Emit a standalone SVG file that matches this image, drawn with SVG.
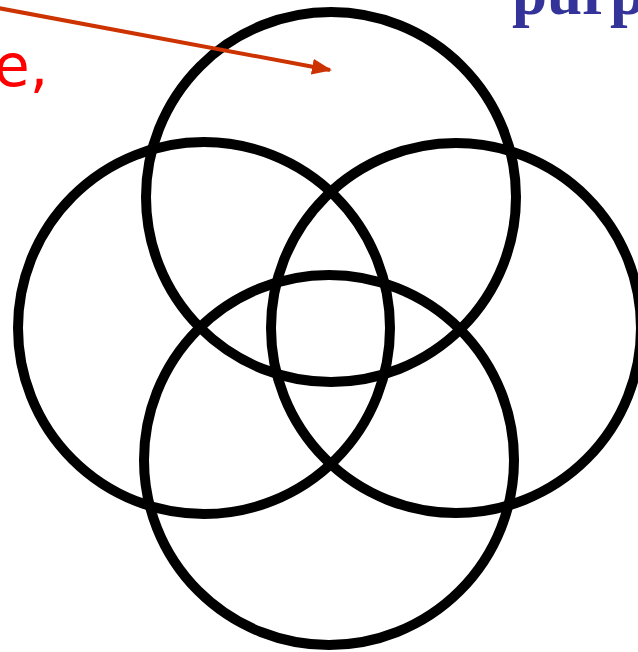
<svg xmlns="http://www.w3.org/2000/svg" width="638" height="652" viewBox="0 0 638 652">
<defs>
<style>
.c{fill:none;stroke:#000;stroke-width:10}
.red{font-family:"DejaVu Sans",Verdana,sans-serif;font-size:58px;fill:#ff0000}
.blue{font-family:"Liberation Serif","Times New Roman",serif;font-size:63px;font-weight:bold;fill:#333399}
</style>
<marker id="ah" markerWidth="5" markerHeight="4" refX="4.5" refY="2" orient="auto" markerUnits="strokeWidth">
<path d="M0,0 L5,2 L0,4 Z" fill="#cc3300"/>
</marker>
</defs>
<g id="circles">
<g id="top"><circle class="c" cx="331" cy="197" r="185"/></g>
<g id="left"><circle class="c" cx="204" cy="328" r="186"/></g>
<g id="right"><circle class="c" cx="456" cy="328" r="185"/></g>
<g id="bottom"><circle class="c" cx="329" cy="460" r="185"/></g>
</g>
<g id="labels">
<text class="red" x="-6" y="86">e,</text>
<text class="blue" x="512" y="14">purp</text>
</g>
<g id="connectors">
<line x1="-2" y1="8" x2="330" y2="70" stroke="#cc3300" stroke-width="4" marker-end="url(#ah)"/>
</g>
</svg>
